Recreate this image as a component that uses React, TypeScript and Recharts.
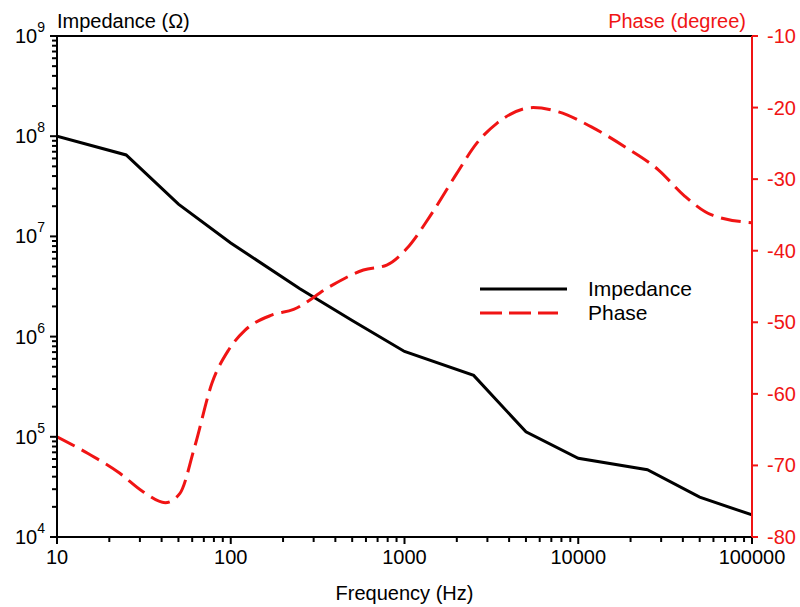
import React from "react";
import { LineChart, Line, XAxis, YAxis, Legend, ReferenceLine } from "recharts";

const RED = "#f01414";
const FONT = "'Liberation Sans', Arial, sans-serif";

// impedance (ohm) vs frequency (Hz)
const impFreq = [10, 25, 50, 100, 250, 500, 1000, 2500, 5000, 10000, 25000, 50000, 100000];
const impValues = [1e8, 6.5e7, 2.1e7, 8.6e6, 3.0e6, 1.45e6, 7.1e5, 4.1e5, 1.12e5, 6.1e4, 4.7e4, 2.5e4, 1.66e4];

// phase (degree) vs frequency (Hz)
const phaseFreq = [10, 15, 23, 31, 42, 51, 62, 78, 97, 121, 172, 230, 372, 580, 790, 1030, 1400, 2000, 2600, 3400, 5500, 7700, 11900, 18600, 28900, 41100, 58600, 100000];
const phaseValues = [-66, -68.3, -71.1, -73.6, -75.2, -73.9, -67.4, -58.5, -53.9, -51.1, -49, -48.2, -45, -42.7, -42, -39.7, -35.2, -29.2, -25, -22.2, -20, -20.6, -22.7, -25.5, -28.7, -32.4, -35, -36.1];

const freqDecades = [10, 100, 1000, 10000, 100000];
const impDecades = [1e4, 1e5, 1e6, 1e7, 1e8, 1e9];
const phaseTicks = [-80, -70, -60, -50, -40, -30, -20, -10];

const impData = impFreq.map((f, i) => ({ f, v: impValues[i] }));
const phaseData = phaseFreq.map((f, i) => ({ f, v: phaseValues[i] }));

const withMinor = (decades: number[]) =>
  decades.flatMap((d, i) =>
    i === decades.length - 1 ? [d] : [1, 2, 3, 4, 5, 6, 7, 8, 9].map((k) => d * k)
  );

const isMajor = (v: number) => Math.abs(Math.log10(v) - Math.round(Math.log10(v))) < 1e-6;

const XTick = ({ x, y, payload }: any) => {
  const v = payload.value;
  if (!isMajor(v)) return <line x1={x} x2={x} y1={y} y2={y + 5} stroke="#000" strokeWidth={2} />;
  return (
    <g>
      <line x1={x} x2={x} y1={y} y2={y + 7} stroke="#000" strokeWidth={2} />
      <text x={x} y={y + 27} textAnchor="middle" fontSize={20} fontFamily={FONT} fill="#000">
        {v}
      </text>
    </g>
  );
};

const ImpTick = ({ x, y, payload }: any) => {
  const v = payload.value;
  if (!isMajor(v)) return <line x1={x - 5} x2={x} y1={y} y2={y} stroke="#000" strokeWidth={2} />;
  return (
    <g>
      <line x1={x - 7} x2={x} y1={y} y2={y} stroke="#000" strokeWidth={2} />
      <text x={x - 12} y={y + 7} textAnchor="end" fontSize={20} fontFamily={FONT} fill="#000">
        10
        <tspan dy={-11} fontSize={14}>{Math.round(Math.log10(v))}</tspan>
      </text>
    </g>
  );
};

const PhaseTick = ({ x, y, payload }: any) => (
  <g>
    <line x1={x} x2={x + 6} y1={y} y2={y} stroke={RED} strokeWidth={2} />
    <text x={x + 15} y={y + 7} textAnchor="start" fontSize={20} fontFamily={FONT} fill={RED}>
      {payload.value}
    </text>
  </g>
);

const renderLegend = () => (
  <div style={{ fontFamily: FONT, fontSize: 21, lineHeight: "24px" }}>
    <div style={{ display: "flex", alignItems: "center" }}>
      <svg width={110} height={24}>
        <line x1={2} x2={89} y1={12} y2={12} stroke="#000" strokeWidth={3} />
      </svg>
      <span>Impedance</span>
    </div>
    <div style={{ display: "flex", alignItems: "center" }}>
      <svg width={110} height={24}>
        <line x1={2} x2={80} y1={12} y2={12} stroke={RED} strokeWidth={3} strokeDasharray="22 7" />
      </svg>
      <span>Phase</span>
    </div>
  </div>
);

export default function App() {
  return (
    <div style={{ position: "absolute", left: 0, top: 0 }}>
      <LineChart width={800} height={607} margin={{ top: 36, right: 0, left: 0, bottom: 0 }}>
        <XAxis
          dataKey="f"
          type="number"
          scale="log"
          domain={[10, 100000]}
          ticks={withMinor(freqDecades)}
          interval={0}
          tick={<XTick />}
          tickSize={0}
          tickMargin={0}
          height={70}
          axisLine={{ stroke: "#000", strokeWidth: 2 }}
          allowDataOverflow
          label={{
            content: ({ viewBox }: any) => (
              <text x={viewBox.x + viewBox.width / 2} y={viewBox.y + 63} textAnchor="middle" fontSize={20} fontFamily={FONT} fill="#000">
                Frequency (Hz)
              </text>
            ),
          }}
        />
        <YAxis
          yAxisId="imp"
          orientation="left"
          type="number"
          scale="log"
          domain={[1e4, 1e9]}
          ticks={withMinor(impDecades)}
          interval={0}
          tick={<ImpTick />}
          tickSize={0}
          tickMargin={0}
          width={57}
          axisLine={{ stroke: "#000", strokeWidth: 2 }}
          allowDataOverflow
          label={{
            content: ({ viewBox }: any) => (
              <text x={viewBox.x + viewBox.width} y={viewBox.y - 8} textAnchor="start" fontSize={20} fontFamily={FONT} fill="#000">
                Impedance (Ω)
              </text>
            ),
          }}
        />
        <YAxis
          yAxisId="phase"
          orientation="right"
          type="number"
          domain={[-80, -10]}
          ticks={phaseTicks}
          interval={0}
          tick={<PhaseTick />}
          tickSize={0}
          tickMargin={0}
          width={48}
          axisLine={{ stroke: RED, strokeWidth: 2 }}
          allowDataOverflow
          label={{
            content: ({ viewBox }: any) => (
              <text x={viewBox.x - 6} y={viewBox.y - 8} textAnchor="end" fontSize={20} fontFamily={FONT} fill={RED}>
                Phase (degree)
              </text>
            ),
          }}
        />
        <ReferenceLine yAxisId="imp" y={1e9} stroke="#000" strokeWidth={2} />
        <Line
          yAxisId="imp"
          data={impData}
          dataKey="v"
          name="Impedance"
          type="linear"
          stroke="#000"
          strokeWidth={3}
          dot={false}
          isAnimationActive={false}
        />
        <Line
          yAxisId="phase"
          data={phaseData}
          dataKey="v"
          name="Phase"
          type="monotone"
          stroke={RED}
          strokeWidth={3}
          strokeDasharray="20 8"
          dot={false}
          isAnimationActive={false}
        />
        <Legend
          layout="vertical"
          align="center"
          verticalAlign="middle"
          content={renderLegend}
          wrapperStyle={{ left: 478, top: 277, width: 260 }}
        />
      </LineChart>
    </div>
  );
}
